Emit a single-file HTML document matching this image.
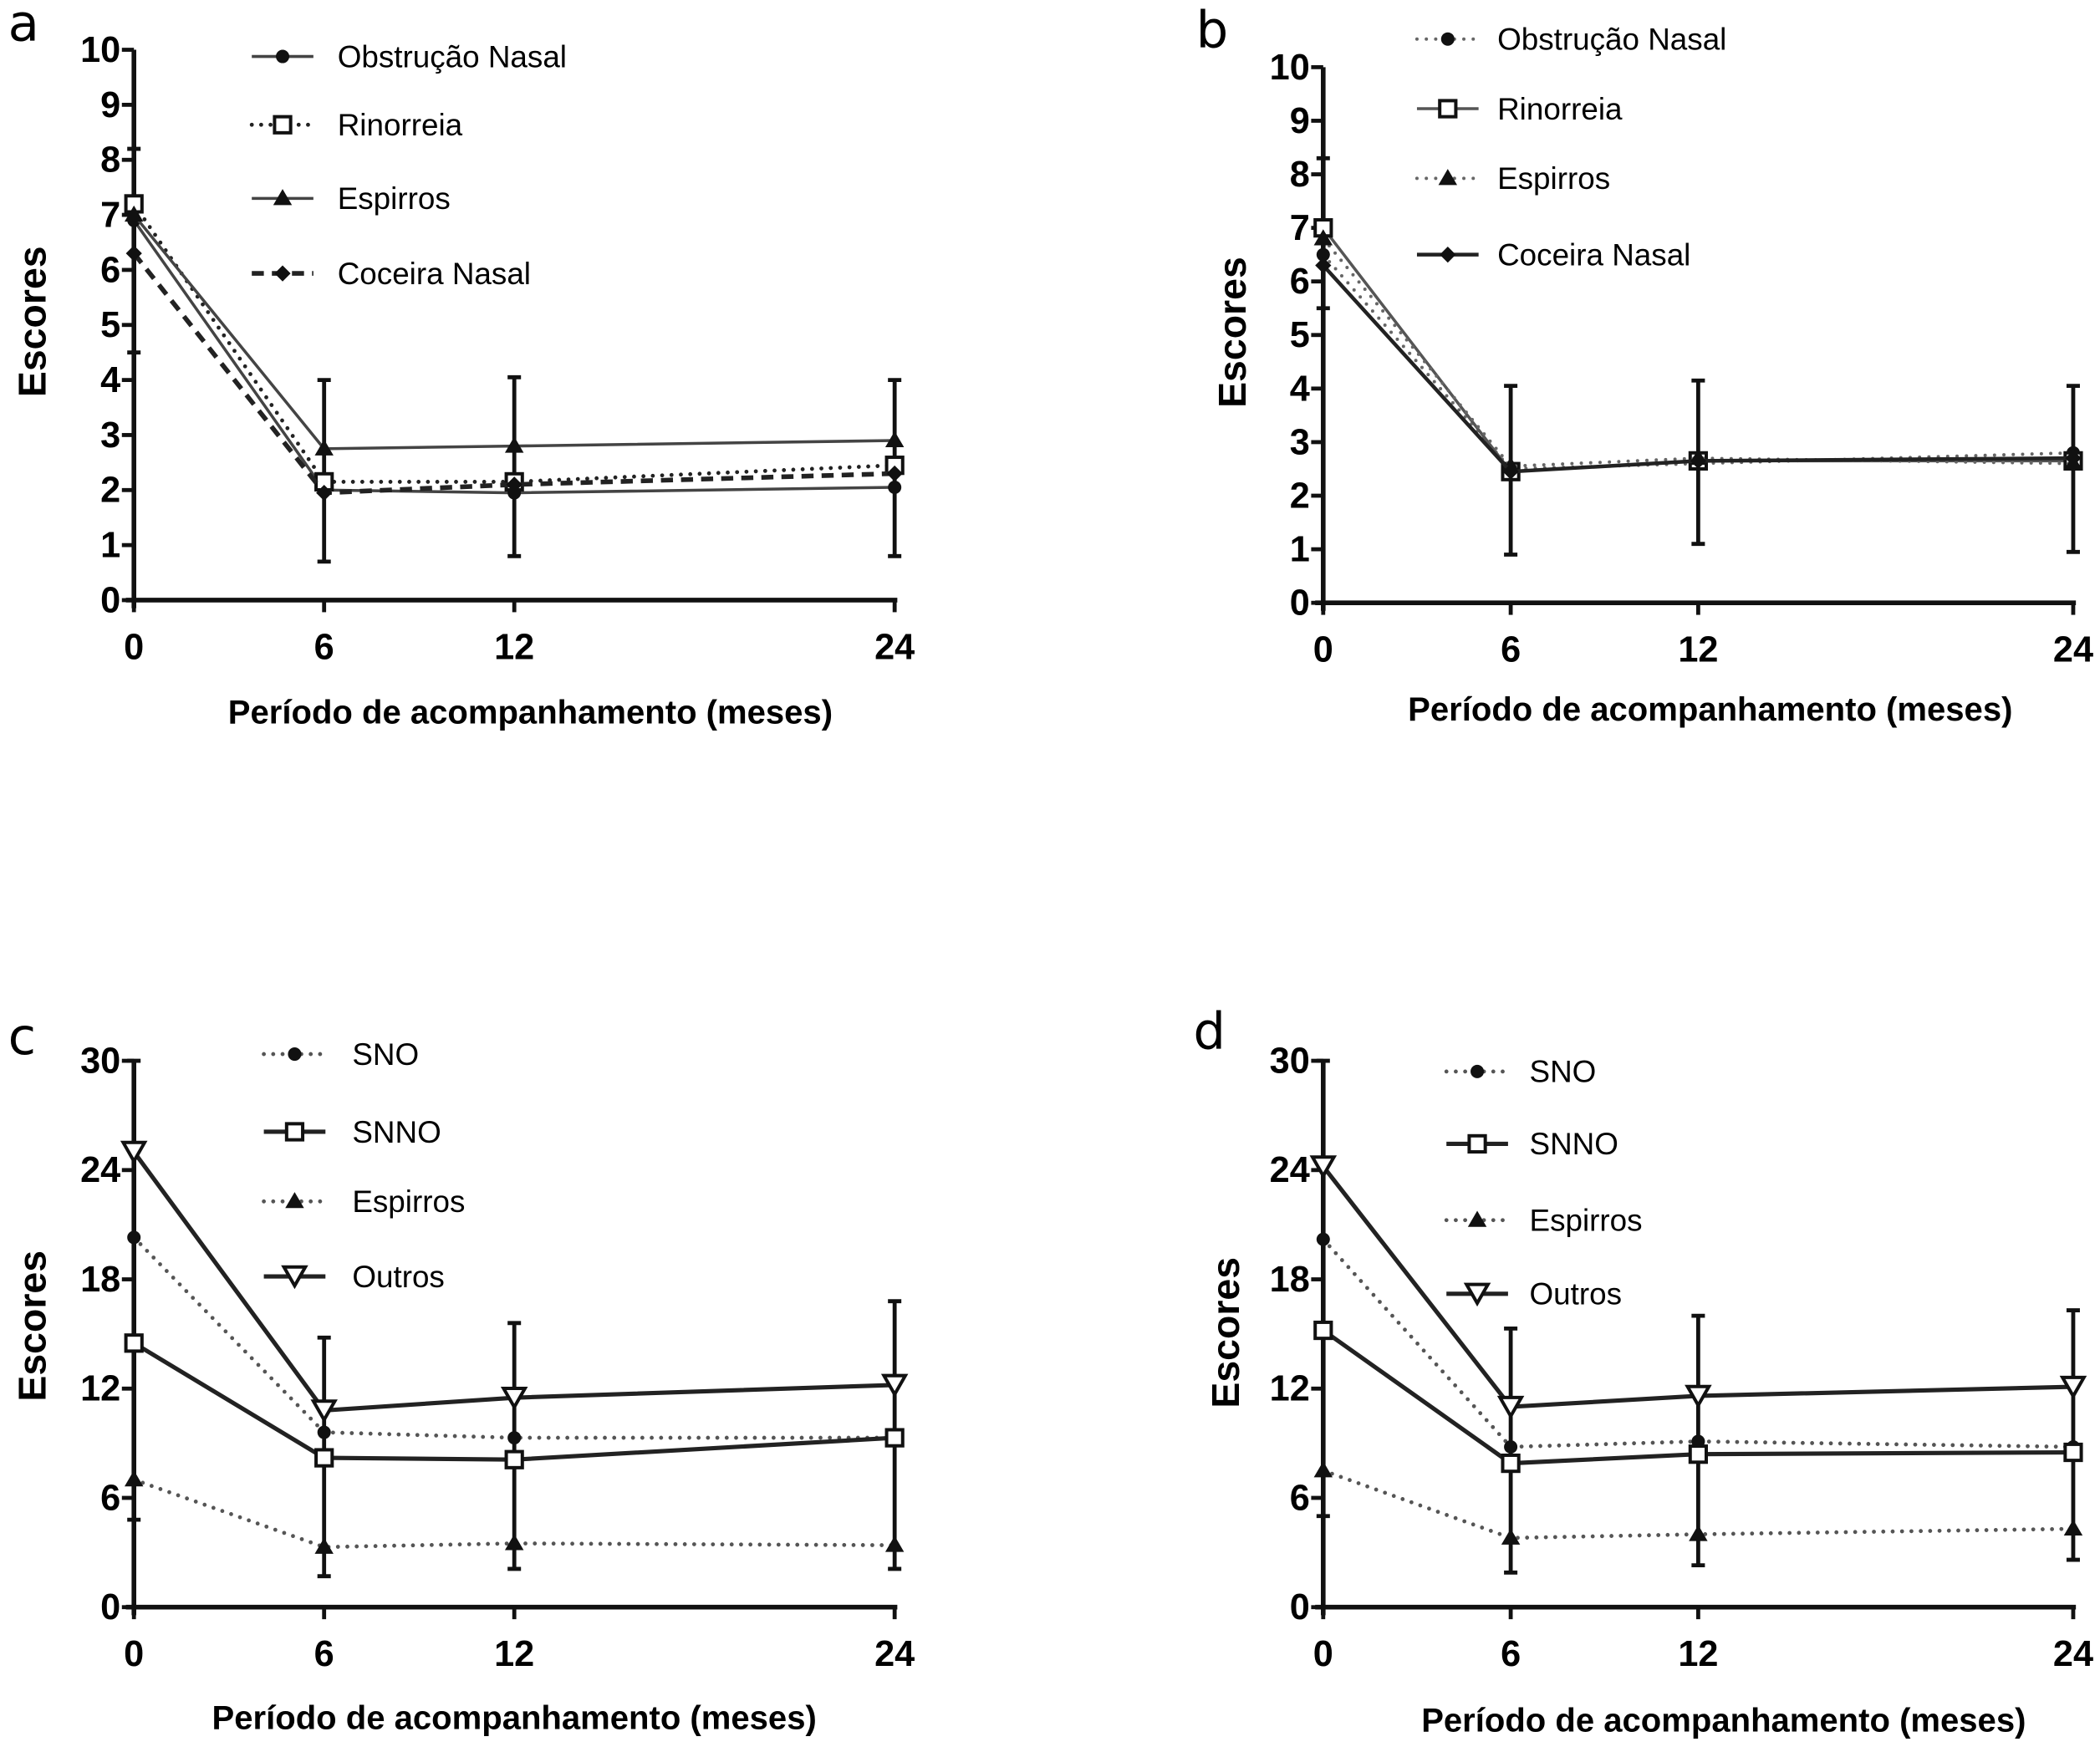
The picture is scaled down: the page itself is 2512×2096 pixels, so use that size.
<!DOCTYPE html>
<html><head><meta charset="utf-8">
<style>
html,body{margin:0;padding:0;background:#fff;}
svg{display:block;font-family:"Liberation Sans",sans-serif;}
.tick{font-family:"Liberation Sans Narrow","Liberation Sans",sans-serif;font-weight:bold;font-size:27px;}
.atitle{font-weight:bold;font-size:25px;}
.ytitle{font-weight:bold;font-size:29px;}
.leg{font-size:23px;}
.plab{font-family:"DejaVu Sans","Liberation Sans",sans-serif;font-size:38px;}
</style></head>
<body>
<svg id="fig" width="2512" height="2096" viewBox="0 0 1568 1308" xmlns="http://www.w3.org/2000/svg"></svg>
<script>
// shared x categories
const months = [0, 6, 12, 24];
// Panel a
const aNames = ["Obstrução Nasal", "Rinorreia", "Espirros", "Coceira Nasal"];
const aObs = [6.9, 2.0, 1.95, 2.05];
const aRin = [7.2, 2.15, 2.15, 2.45];
const aEsp = [7.0, 2.75, 2.8, 2.9];
const aCoc = [6.3, 1.95, 2.1, 2.3];
const aErrLo = [4.5, 0.7, 0.8, 0.8];
const aErrHi = [8.2, 4.0, 4.05, 4.0];
const aTicks = [0,1,2,3,4,5,6,7,8,9,10];
// Panel b
const bNames = ["Obstrução Nasal", "Rinorreia", "Espirros", "Coceira Nasal"];
const bObs = [6.5, 2.5, 2.6, 2.8];
const bRin = [7.0, 2.45, 2.65, 2.65];
const bEsp = [6.8, 2.55, 2.7, 2.6];
const bCoc = [6.3, 2.45, 2.65, 2.7];
const bErrLo = [5.5, 0.9, 1.1, 0.95];
const bErrHi = [8.3, 4.05, 4.15, 4.05];
const bTicks = [0,1,2,3,4,5,6,7,8,9,10];
// Panel c
const cNames = ["SNO", "SNNO", "Espirros", "Outros"];
const cSNO = [20.3, 9.6, 9.3, 9.3];
const cSNNO = [14.5, 8.2, 8.1, 9.3];
const cEsp = [7.0, 3.3, 3.5, 3.4];
const cOut = [25.0, 10.8, 11.5, 12.2];
const cErrLo = [4.8, 1.7, 2.1, 2.1];
const cErrHi = [30.0, 14.8, 15.6, 16.8];
const cTicks = [0,6,12,18,24,30];
// Panel d
const dNames = ["SNO", "SNNO", "Espirros", "Outros"];
const dSNO = [20.2, 8.8, 9.1, 8.8];
const dSNNO = [15.2, 7.9, 8.4, 8.5];
const dEsp = [7.5, 3.8, 4.0, 4.3];
const dOut = [24.2, 11.0, 11.6, 12.1];
const dErrLo = [5.0, 1.9, 2.3, 2.6];
const dErrHi = [30.0, 15.3, 16.0, 16.3];
const dTicks = [0,6,12,18,24,30];

const NS = "http://www.w3.org/2000/svg";
const svg = document.getElementById("fig");
function mk(tag, attrs, parent, txt){
  const e = document.createElementNS(NS, tag);
  for (const k in attrs) e.setAttribute(k, attrs[k]);
  if (txt !== undefined) e.textContent = txt;
  (parent||svg).appendChild(e);
  return e;
}
function marker(g, shape, x, y, fill){
  let m;
  if (shape === "circle") m = mk("circle",{cx:x,cy:y,r:5,fill:"#111"},g);
  else if (shape === "square") m = mk("rect",{x:x-6,y:y-6,width:12,height:12,fill:fill||"#fff",stroke:"#111","stroke-width":2.5},g);
  else if (shape === "tri") m = mk("path",{d:`M${x},${y-7} L${x+7},${y+5} L${x-7},${y+5} Z`,fill:"#111"},g);
  else if (shape === "dia") m = mk("path",{d:`M${x},${y-6} L${x+6},${y} L${x},${y+6} L${x-6},${y} Z`,fill:"#111"},g);
  else if (shape === "itri") m = mk("path",{d:`M${x-8},${y-7} L${x+8},${y-7} L${x},${y+7} Z`,fill:"#fff",stroke:"#111","stroke-width":2.5},g);
  return m;
}
function panel(p){
  const g = mk("g",{});
  
  
  const xs = v => p.x0 + (p.x1 - p.x0) * v / 24;
  const ys = v => p.y0 - (p.y0 - p.y1) * v / p.ymax;
  const lt = mk("text",{x:p.lx,y:p.ly,class:"plab"},g,p.id);
  
  
  const ax = mk("g",{},g);
  
  
  mk("line",{x1:p.x0,y1:ys(p.ymax),x2:p.x0,y2:p.y0+6,stroke:"#111","stroke-width":3.5},ax);
  mk("line",{x1:p.x0-6,y1:p.y0,x2:p.x1+2,y2:p.y0,stroke:"#111","stroke-width":3.5},ax);
  p.ticks.forEach(t=>{
    mk("line",{x1:p.x0-9,y1:ys(t),x2:p.x0,y2:ys(t),stroke:"#111","stroke-width":3},ax);
    const tl = mk("text",{x:p.x0-10,y:ys(t)+9,"text-anchor":"end",class:"tick"},ax,String(t));
    
    
  });
  months.forEach(m=>{
    mk("line",{x1:xs(m),y1:p.y0,x2:xs(m),y2:p.y0+9,stroke:"#111","stroke-width":3},ax);
    const tl = mk("text",{x:xs(m),y:p.y0+44,"text-anchor":"middle",class:"tick"},ax,String(m));
    
    
  });
  const xt = mk("text",{x:p.xtx,y:p.xty,"text-anchor":"middle",class:"atitle"},g,"Período de acompanhamento (meses)");
  
  
  const yt = mk("text",{x:0,y:0,"text-anchor":"middle",class:"ytitle",transform:`translate(${p.ytx},${p.yty}) rotate(-90)`},g,"Escores");
  
  
  months.forEach((m,i)=>{
    const eb = mk("g",{},g);
    
    
    mk("line",{x1:xs(m),y1:ys(p.lo[i]),x2:xs(m),y2:ys(p.hi[i]),stroke:"#111","stroke-width":3},eb);
    mk("line",{x1:xs(m)-5,y1:ys(p.lo[i]),x2:xs(m)+5,y2:ys(p.lo[i]),stroke:"#111","stroke-width":3},eb);
    mk("line",{x1:xs(m)-5,y1:ys(p.hi[i]),x2:xs(m)+5,y2:ys(p.hi[i]),stroke:"#111","stroke-width":3},eb);
  });
  p.series.forEach((s,k)=>{
    const sg = mk("g",{},g);
    
    
    const pts = s.vals.map((v,i)=>xs(months[i])+","+ys(v)).join(" ");
    mk("polyline",{points:pts,fill:"none",stroke:s.col||"#222","stroke-width":s.w,"stroke-dasharray":s.dash||"none","stroke-linecap":s.dash==="0 7"?"round":"butt"},sg);
    s.vals.forEach((v,i)=>{
      const mm = marker(sg, s.shape, xs(months[i]), ys(v));
      
      
    });
    const lg = mk("g",{},g);
    
    
    const ly = p.legY[k];
    mk("line",{x1:p.legX,y1:ly,x2:p.legX+46,y2:ly,stroke:s.col||"#222","stroke-width":s.w,"stroke-dasharray":s.dash||"none","stroke-linecap":s.dash==="0 7"?"round":"butt"},lg);
    marker(lg, s.shape, p.legX+23, ly);
    mk("text",{x:p.legX+p.legT,y:ly+8,class:"leg"},lg,s.name);
  });
}
panel({id:"a",x0:100,x1:668,y0:448,y1:37,ymax:10,ticks:aTicks,lx:6,ly:30,
  xtx:396,xty:540,ytx:34,yty:240,lo:aErrLo,hi:aErrHi,legX:188,legT:64,legY:[42,93,148,204],
  series:[
   {key:"obstrucao",name:aNames[0],vals:aObs,shape:"circle",w:2.2,col:"#444"},
   {key:"rinorreia",name:aNames[1],vals:aRin,shape:"square",w:3,dash:"0 7"},
   {key:"espirros",name:aNames[2],vals:aEsp,shape:"tri",w:2.2,col:"#444"},
   {key:"coceira",name:aNames[3],vals:aCoc,shape:"dia",w:3.5,dash:"9 6"}]});
panel({id:"b",x0:988,x1:1548,y0:450,y1:50,ymax:10,ticks:bTicks,lx:893,ly:35,
  xtx:1277,xty:538,ytx:930,yty:248,lo:bErrLo,hi:bErrHi,legX:1058,legT:60,legY:[29,81,133,190],
  series:[
   {key:"obstrucao",name:bNames[0],vals:bObs,shape:"circle",w:2.5,dash:"0 7",col:"#666"},
   {key:"rinorreia",name:bNames[1],vals:bRin,shape:"square",w:2.2,col:"#555"},
   {key:"espirros",name:bNames[2],vals:bEsp,shape:"tri",w:2.5,dash:"0 7",col:"#666"},
   {key:"coceira",name:bNames[3],vals:bCoc,shape:"dia",w:2.8,col:"#222"}]});
panel({id:"c",x0:100,x1:668,y0:1200,y1:792,ymax:30,ticks:cTicks,lx:6,ly:787,
  xtx:384,xty:1291,ytx:34,yty:990,lo:cErrLo,hi:cErrHi,legX:197,legT:66,legY:[787,845,897,953],
  series:[
   {key:"sno",name:cNames[0],vals:cSNO,shape:"circle",w:3,dash:"0 7",col:"#555"},
   {key:"snno",name:cNames[1],vals:cSNNO,shape:"square",w:3.2},
   {key:"espirros",name:cNames[2],vals:cEsp,shape:"tri",w:3,dash:"0 7",col:"#555"},
   {key:"outros",name:cNames[3],vals:cOut,shape:"itri",w:3.2}]});
panel({id:"d",x0:988,x1:1548,y0:1200,y1:792,ymax:30,ticks:dTicks,lx:891,ly:783,
  xtx:1287,xty:1293,ytx:925,yty:995,lo:dErrLo,hi:dErrHi,legX:1080,legT:62,legY:[800,854,911,966],
  series:[
   {key:"sno",name:dNames[0],vals:dSNO,shape:"circle",w:3,dash:"0 7",col:"#555"},
   {key:"snno",name:dNames[1],vals:dSNNO,shape:"square",w:3.2},
   {key:"espirros",name:dNames[2],vals:dEsp,shape:"tri",w:3,dash:"0 7",col:"#555"},
   {key:"outros",name:dNames[3],vals:dOut,shape:"itri",w:3.2}]});
</script>
</body></html>
